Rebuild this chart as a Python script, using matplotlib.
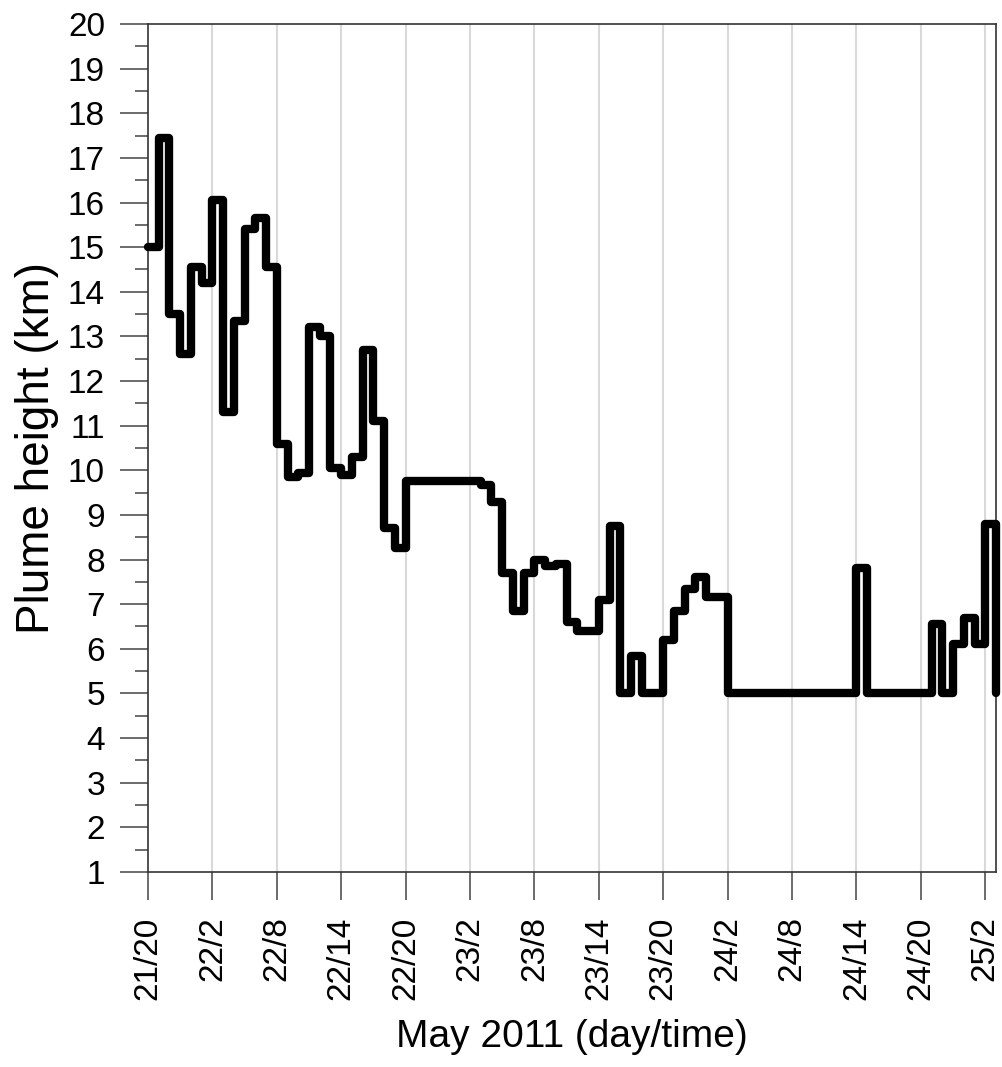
"""Plume height time series, May 2011, as an hourly step line."""

import matplotlib
matplotlib.use('Agg')
import matplotlib.pyplot as plt
import numpy as np

plt.rcParams['font.family'] = ['Liberation Sans', 'DejaVu Sans']

# hourly plume height (km), starting 21 May 20:00
HEIGHTS = [
    15.0, 17.45, 13.5, 12.6, 14.55, 14.2, 16.05, 11.3, 13.35, 15.4,
    15.65, 14.55, 10.6, 9.85, 9.95, 13.2, 13.0, 10.05, 9.9, 10.3,
    12.7, 11.1, 8.7, 8.25, 9.75, 9.75, 9.75, 9.75, 9.75, 9.75,
    9.75, 9.68, 9.3, 7.7, 6.85, 7.7, 8.0, 7.85, 7.9, 6.6,
    6.4, 6.4, 7.1, 8.75, 5.0, 5.85, 5.0, 5.0, 6.2, 6.85,
    7.35, 7.6, 7.15, 7.15, 5.0, 5.0, 5.0, 5.0, 5.0, 5.0,
    5.0, 5.0, 5.0, 5.0, 5.0, 5.0, 7.8, 5.0, 5.0, 5.0,
    5.0, 5.0, 5.0, 6.55, 5.0, 6.1, 6.7, 6.1, 8.8,
]
END_HEIGHT = 5.0
TICK_LABELS = ['21/20', '22/2', '22/8', '22/14', '22/20', '23/2', '23/8',
               '23/14', '23/20', '24/2', '24/8', '24/14', '24/20', '25/2']
TICK_STEP = 6  # hours between labelled ticks


def main():
    hours = np.arange(len(HEIGHTS) + 1)
    heights = HEIGHTS + [END_HEIGHT]

    fig = plt.figure(figsize=(10.02, 10.67), dpi=100)
    ax = fig.add_axes([0.1477, 0.1828, 0.8463, 0.7947])

    ticks = np.arange(len(TICK_LABELS)) * TICK_STEP
    for t in ticks[1:]:
        ax.axvline(t, color='#d9d9d9', lw=1.5, zorder=0)

    ax.plot(hours, heights, drawstyle='steps-post', color='black', lw=6.0,
            solid_capstyle='round', solid_joinstyle='round', clip_on=False,
            zorder=3)

    ax.set_xlim(0, len(HEIGHTS))
    ax.set_ylim(1, 20)
    ax.set_xticks(ticks)
    ax.set_xticklabels(TICK_LABELS, rotation=90)
    ax.set_yticks(np.arange(1, 21))
    ax.set_yticks(np.arange(1.5, 20, 1), minor=True)

    for side in ax.spines.values():
        side.set_linewidth(1.2)
        side.set_color('#333333')
    ax.tick_params(axis='both', which='major', length=20, width=1.1,
                   color='#444444', labelsize=24, direction='out')
    ax.tick_params(axis='x', pad=12)
    ax.tick_params(axis='y', pad=11)
    ax.tick_params(axis='y', which='minor', length=9.5, width=1.1,
                   color='#444444')

    ax.set_ylabel('Plume height (km)', fontsize=33, labelpad=6)
    ax.set_xlabel('May 2011 (day/time)', fontsize=28, labelpad=14)

    fig.savefig('out.png', dpi=100)


if __name__ == '__main__':
    main()
